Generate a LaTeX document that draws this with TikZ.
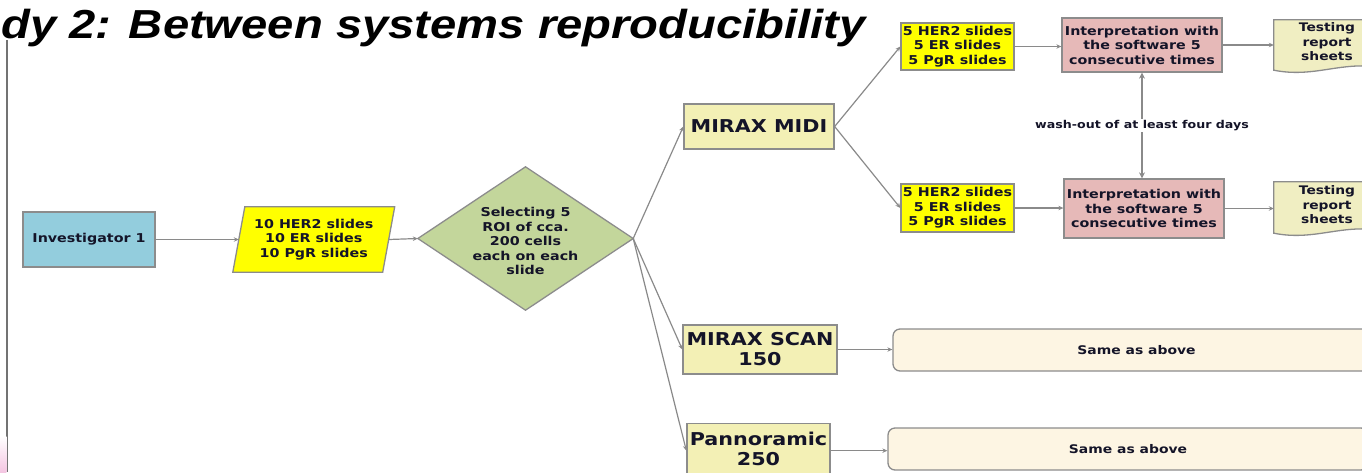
\documentclass[tikz,border=0pt]{standalone}
\usepackage{fontspec}
\usetikzlibrary{arrows.meta,calc}
\newfontfamily\vf[FakeStretch=1.17]{DejaVu Sans}
\newfontfamily\tf[FakeStretch=1.165]{Liberation Sans}
\definecolor{bordc}{HTML}{8C8C8C}
\definecolor{linec}{HTML}{8A8A8A}
\definecolor{txt}{HTML}{141428}
\definecolor{invc}{HTML}{93CDDD}
\definecolor{yelc}{HTML}{FFFF00}
\definecolor{diac}{HTML}{C3D69B}
\definecolor{sysc}{HTML}{F3F0B5}
\definecolor{intc}{HTML}{E6B9B8}
\definecolor{tstc}{HTML}{F0EEC2}
\definecolor{samec}{HTML}{FDF5E3}
\definecolor{pinkc}{HTML}{F4C6E2}
\begin{document}
\begin{tikzpicture}[x=1pt,y=-1pt,
  shapebox/.style={draw=bordc, line width=1.3pt, inner sep=0pt, align=center,
    text=txt, font=\vf\bfseries\fontsize{12.2}{14.5}\selectfont},
  plainbox/.style={inner sep=0pt, align=center,
    text=txt, font=\vf\bfseries\fontsize{12.2}{14.5}\selectfont},
  bigbox/.style={shapebox, font=\vf\bfseries\fontsize{17.7}{20}\selectfont},
  outline/.style={draw=bordc, line width=1.3pt},
  conn/.style={draw=linec, line width=1.2pt, -{Stealth[length=5pt,width=4.5pt]}},
  twoway/.style={draw=linec, line width=2.4pt, {Stealth[length=6pt,width=6pt]}-{Stealth[length=6pt,width=6pt]}}
]
\useasboundingbox (0,0) rectangle (1362,472);

% title and left decoration
\node[anchor=base east, inner sep=0pt, font=\tf\bfseries\itshape\fontsize{40.5}{44}\selectfont] (title) at (866,38) {Study 2: Between systems reproducibility};
\draw[color=black!55, line width=1.2pt] (7,40) -- (7,472);
\shade[top color=white, bottom color=pinkc] (0,436) rectangle (6.4,472);

% nodes
\node[shapebox, fill=invc, minimum width=132pt, minimum height=55pt] (inv) at (89,239.5) {Investigator 1};

\node[plainbox, minimum width=149.5pt, minimum height=65pt] (par) at (313.75,239.5) {};
\filldraw[outline, fill=yelc] ($(par.north west)+(6,0)$) -- ($(par.north east)+(6,0)$) -- ($(par.south east)+(-6,0)$) -- ($(par.south west)+(-6,0)$) -- cycle;
\node[plainbox] at (par.center) {10 HER2 slides\\10 ER slides\\10 PgR slides};

\node[plainbox, minimum width=215pt, minimum height=143pt] (dia) at (525.5,238.5) {};
\filldraw[outline, fill=diac] (dia.west) -- (dia.north) -- (dia.east) -- (dia.south) -- cycle;
\node[plainbox] at ($(dia.center)+(0,2.5)$) {Selecting 5\\ROI of cca.\\200 cells\\each on each\\slide};

\node[bigbox, fill=sysc, minimum width=150pt, minimum height=45pt] (midi) at (759,126.5) {MIRAX MIDI};
\node[bigbox, fill=sysc, minimum width=154pt, minimum height=49pt] (scan) at (760,349.5) {MIRAX SCAN\\150};
\node[bigbox, fill=sysc, minimum width=143pt, minimum height=54pt, anchor=north] (pano) at (758.5,423) {};
\node[plainbox, font=\vf\bfseries\fontsize{17.7}{20}\selectfont] at (758.5,449) {Pannoramic\\250};

\node[shapebox, fill=yelc, minimum width=113pt, minimum height=47pt] (s1) at (957.5,46.5) {5 HER2 slides\\5 ER slides\\5 PgR slides};
\node[shapebox, fill=yelc, minimum width=113pt, minimum height=48pt] (s2) at (957.5,208) {5 HER2 slides\\5 ER slides\\5 PgR slides};

\node[shapebox, fill=intc, minimum width=160pt, minimum height=54pt] (i1) at (1142,45) {Interpretation with\\the software 5\\consecutive times};
\node[shapebox, fill=intc, minimum width=160pt, minimum height=59pt] (i2) at (1144,208.5) {Interpretation with\\the software 5\\consecutive times};

\node[plainbox, minimum width=106pt, minimum height=50pt] (t1) at (1327,45) {};
\filldraw[outline, fill=tstc] (t1.north west) -- (t1.north east) -- ($(t1.south east)+(0,-3)$) .. controls ($(t1.south east)+(-40,-9)$) and ($(t1.south west)+(40,8)$) .. (t1.south west) -- cycle;
\node[plainbox, font=\vf\bfseries\fontsize{11.8}{14.5}\selectfont] at (1327,42) {Testing\\report\\sheets};

\node[plainbox, minimum width=106pt, minimum height=51pt] (t2) at (1327,207.5) {};
\filldraw[outline, fill=tstc] (t2.north west) -- (t2.north east) -- ($(t2.south east)+(0,-3)$) .. controls ($(t2.south east)+(-40,-9)$) and ($(t2.south west)+(40,8)$) .. (t2.south west) -- cycle;
\node[plainbox, font=\vf\bfseries\fontsize{11.8}{14.5}\selectfont] at (1327,205) {Testing\\report\\sheets};

\node[shapebox, fill=samec, rounded corners=7pt, minimum width=487pt, minimum height=42pt, font=\vf\bfseries\fontsize{11.9}{14}\selectfont] (sa1) at (1136.5,350) {Same as above};
\node[shapebox, fill=samec, rounded corners=7pt, minimum width=480pt, minimum height=42pt, font=\vf\bfseries\fontsize{11.9}{14}\selectfont] (sa2) at (1128,449) {Same as above};

% connectors
\draw[conn] (inv.east) -- (par.west);
\draw[conn] (par.east) -- (dia.west);
\draw[conn] (dia.east) -- (midi.west);
\draw[conn] (dia.east) -- (scan.west);
\draw[conn] (dia.east) -- (pano.west);
\draw[conn] (midi.east) -- (s1.west);
\draw[conn] (midi.east) -- (s2.west);
\draw[conn] (s1.east) -- (s1.east -| i1.west);
\draw[conn] (i1.east) -- (i1.east -| t1.west);
\draw[conn] (s2.east) -- (s2.east -| i2.west);
\draw[conn] (i2.east) -- (i2.east -| t2.west);
\draw[conn] (scan.east) -- (scan.east -| sa1.west);
\draw[conn] (pano.east) -- (pano.east -| sa2.west);
\draw[twoway] (i1.south) -- (i1.south |- i2.north)
  node[midway, fill=white, inner sep=1.5pt, text=txt, font=\vf\bfseries\fontsize{10.8}{12}\selectfont] (wash) {wash-out of at least four days};
\end{tikzpicture}
\end{document}
